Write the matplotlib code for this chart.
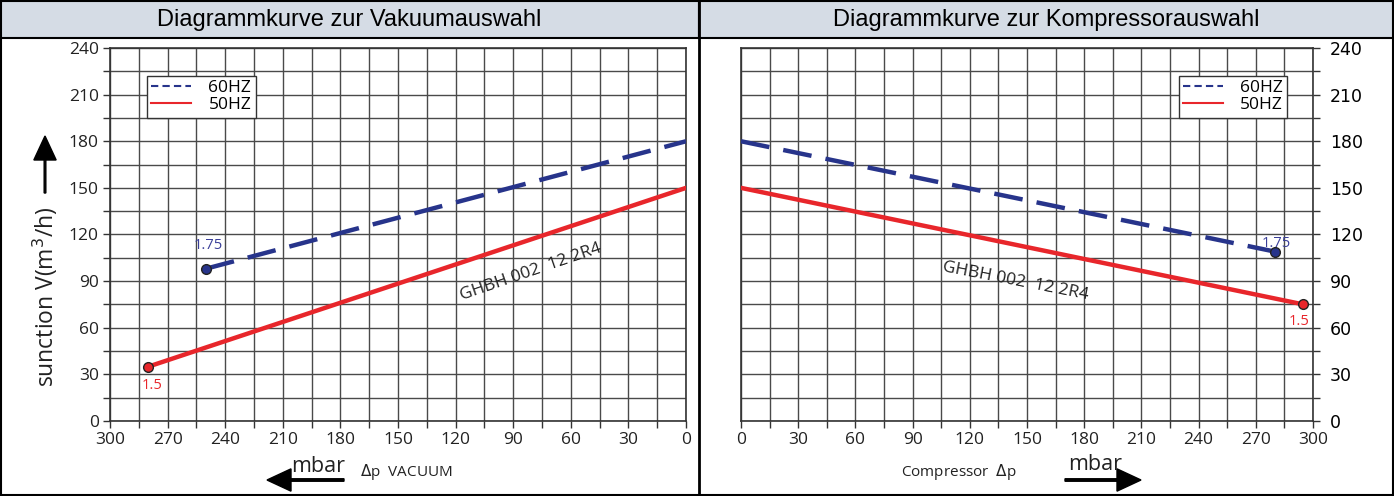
import matplotlib
matplotlib.use("Agg")
import matplotlib.pyplot as plt
from matplotlib.patches import Rectangle, FancyArrow
from matplotlib.lines import Line2D

# ---- data ----
vac_60_x = [250, 0]
vac_60_y = [98, 180]
vac_50_x = [280, 0]
vac_50_y = [35, 150]
comp_60_x = [0, 280]
comp_60_y = [180, 109]
comp_50_x = [0, 295]
comp_50_y = [150, 75]
x_ticks = [0, 30, 60, 90, 120, 150, 180, 210, 240, 270, 300]
y_ticks = [0, 30, 60, 90, 120, 150, 180, 210, 240]
titles = ["Diagrammkurve zur Vakuumauswahl", "Diagrammkurve zur Kompressorauswahl"]
model = "GHBH 002  12 2R4"

W, H = 1394, 496
fig = plt.figure(figsize=(W / 100, H / 100), dpi=100)
BLUE = "#27348b"
RED = "#e8262b"
TICKF = "Open Sans"

def fx(px):
    return px / W

def fy(py):
    return 1 - py / H

# title bars and frame
for x0, x1, t in [(0, 699, titles[0]), (699, W, titles[1])]:
    fig.patches.append(Rectangle((fx(x0), fy(38)), fx(x1 - x0), 38 / H,
                                 transform=fig.transFigure, facecolor="#d5dce5",
                                 edgecolor="black", lw=1.5, zorder=0))
    fig.text(fx((x0 + x1) / 2), fy(20), t, ha="center", va="center",
             fontsize=17, family="Liberation Sans")
fig.patches.append(Rectangle((fx(1), fy(495)), fx(W - 2), 494 / H, transform=fig.transFigure,
                             facecolor="none", edgecolor="black", lw=1.5, zorder=0))
fig.lines.append(Line2D([fx(699), fx(699)], [0, 1], transform=fig.transFigure, color="black", lw=2))

def setup(ax, right=False):
    ax.set_xlim(0, 300)
    ax.set_ylim(0, 240)
    ax.set_xticks(x_ticks)
    ax.set_yticks(y_ticks)
    ax.set_xticks(range(15, 300, 30), minor=True)
    ax.set_yticks(range(15, 240, 30), minor=True)
    ax.grid(True, which="both", color="#4a4a4a", lw=1.0)
    ax.set_axisbelow(True)
    for s in ax.spines.values():
        s.set_color("#333333")
        s.set_linewidth(1.2)
    ax.tick_params(which="both", length=5, width=1, color="#333333",
                   labelsize=12.5, pad=3)
    for lab in ax.get_xticklabels() + ax.get_yticklabels():
        lab.set_family(TICKF)
        lab.set_color("#222222")
    if right:
        ax.yaxis.tick_right()
        ax.tick_params(axis="y", which="both", left=False, right=True, pad=7)

axL = fig.add_axes([fx(110), fy(421), fx(686 - 110), 373 / H])
setup(axL)
axL.invert_xaxis()
axR = fig.add_axes([fx(741), fy(421), fx(1313 - 741), 373 / H])
setup(axR, right=True)

dash = (0, (6.5, 3.2))
for ax, x6, y6, x5, y5 in [(axL, vac_60_x, vac_60_y, vac_50_x, vac_50_y),
                           (axR, comp_60_x, comp_60_y, comp_50_x, comp_50_y)]:
    ax.plot(x6, y6, color=BLUE, lw=3.2, linestyle=dash, label="60HZ", zorder=3)
    ax.plot(x5, y5, color=RED, lw=3.2, label="50HZ", zorder=3)
    leg = ax.legend(handles=[Line2D([], [], color=BLUE, lw=1.5, linestyle=(0, (3.5, 2))),
                             Line2D([], [], color=RED, lw=1.5)],
                    labels=["60HZ", "50HZ"],
                    loc="upper left" if ax is axL else "upper right",
                    bbox_to_anchor=(0.064, 0.925) if ax is axL else (0.955, 0.925),
                    fancybox=False, framealpha=1, edgecolor="#333333",
                    prop={"family": TICKF, "size": 12.5}, handlelength=2.3,
                    borderpad=0.25, labelspacing=0.05, handletextpad=1.0,
                    borderaxespad=0)
    leg.get_frame().set_linewidth(1.0)

# endpoints
axL.plot([vac_60_x[0]], [vac_60_y[0]], "o", ms=7, mfc=BLUE, mec="#222222", zorder=4)
axL.plot([vac_50_x[0]], [vac_50_y[0]], "o", ms=7, mfc=RED, mec="#222222", zorder=4)
axR.plot([comp_60_x[-1]], [comp_60_y[-1]], "o", ms=7, mfc=BLUE, mec="#222222", zorder=4)
axR.plot([comp_50_x[-1]], [comp_50_y[-1]], "o", ms=7, mfc=RED, mec="#222222", zorder=4)

axL.annotate("1.75", (vac_60_x[0], vac_60_y[0]), xytext=(2, 14), textcoords="offset points",
             ha="center", color="#3a3f99", fontsize=10.5, family=TICKF)
axL.annotate("1.5", (vac_50_x[0], vac_50_y[0]), xytext=(3, -16), textcoords="offset points",
             ha="center", color=RED, fontsize=10.5, family=TICKF)
axR.annotate("1.75", (comp_60_x[-1], comp_60_y[-1]), xytext=(1, 3), textcoords="offset points",
             ha="center", color="#3a3f99", fontsize=10.5, family=TICKF)
axR.annotate("1.5", (comp_50_x[-1], comp_50_y[-1]), xytext=(-3, -15), textcoords="offset points",
             ha="center", color=RED, fontsize=10.5, family=TICKF)

axL.text(81, 96, model, rotation=19, ha="center", va="center", fontsize=12.5,
         family=TICKF, color="#222222")
axR.text(144, 90, model, rotation=-11, ha="center", va="center", fontsize=12.5,
         family=TICKF, color="#222222")

# y label with arrow
fig.text(fx(45), fy(297), "sunction V(m$^3$/h)", rotation=90, ha="center", va="center",
         fontsize=16.5, family=TICKF, color="#222222")
fig.add_artist(FancyArrow(fx(45), fy(193), 0, 57 / H, width=0.0012, head_width=0.016,
                          head_length=24 / H, color="black", transform=fig.transFigure,
                          length_includes_head=True))

# bottom labels
fig.text(fx(318), fy(466), "mbar", ha="center", va="center", fontsize=15.5, family=TICKF,
         color="#222222")
fig.add_artist(FancyArrow(fx(344), fy(480), -(344 - 267) / W, 0, width=0.005,
                          head_width=0.045, head_length=24 / W, color="black",
                          transform=fig.transFigure, length_includes_head=True))
fig.text(fx(360), fy(472), "$\\Delta$p  VACUUM", ha="left", va="center", fontsize=11,
         family=TICKF, color="#222222")

fig.text(fx(901), fy(472), "Compressor  $\\Delta$p", ha="left", va="center", fontsize=11,
         family=TICKF, color="#222222")
fig.text(fx(1095), fy(465), "mbar", ha="center", va="center", fontsize=15.5, family=TICKF,
         color="#222222")
fig.add_artist(FancyArrow(fx(1065), fy(480), (1141 - 1065) / W, 0, width=0.005,
                          head_width=0.045, head_length=24 / W, color="black",
                          transform=fig.transFigure, length_includes_head=True))

fig.savefig("out.png", dpi=100)
